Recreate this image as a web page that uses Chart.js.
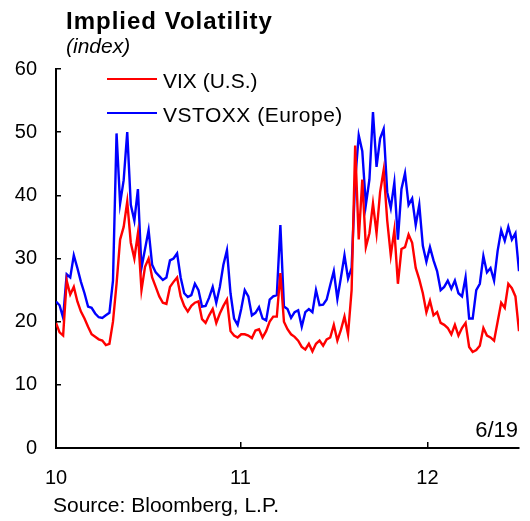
<!DOCTYPE html>
<html>
<head>
<meta charset="utf-8">
<script src="https://cdn.jsdelivr.net/npm/chart.js@4.4.0/dist/chart.umd.min.js"></script>
<style>
  html, body { margin: 0; padding: 0; background: #fff; }
  #wrap { position: relative; width: 530px; height: 521px; font-family: "Liberation Sans", Arial, sans-serif; color: #000; }
  #wrap canvas { position: absolute; left: 0; top: 0; }
  .txt { position: absolute; white-space: nowrap; font-size: 21px; line-height: 21px; }
  .key { position: absolute; height: 2px; width: 50px; }
</style>
</head>
<body>
<div id="wrap">
  <canvas id="vol" width="530" height="521"></canvas>
  <div class="txt" style="left:66px; top:9px; font-size:24px; line-height:24px; font-weight:bold; letter-spacing:1px;">Implied Volatility</div>
  <div class="txt" style="left:66px; top:35px; font-style:italic;">(index)</div>
  <div class="key" style="left:107px; top:78px; background:#ff0000;"></div>
  <div class="txt" style="left:163px; top:70px;">VIX (U.S.)</div>
  <div class="key" style="left:107px; top:112px; background:#0000ff;"></div>
  <div class="txt" style="left:163px; top:104px; letter-spacing:0.5px;">VSTOXX (Europe)</div>
  <div class="txt" style="right:12px; top:419px; font-size:22px; line-height:22px;">6/19</div>
  <div class="txt" style="left:53px; top:494px;">Source: Bloomberg, L.P.</div>
</div>
<script>
// weekly readings, Jan 2010 .. Jun 19 2012
const vix = [
  19.8, 18.3, 17.8, 26.5, 24.3, 25.5, 23.2, 21.6, 20.5, 19.2,
  18.0, 17.6, 17.2, 17.0, 16.3, 16.5, 20.0, 26.0, 33.0, 35.0,
  39.0, 32.5, 30.0, 34.0, 25.0, 28.7, 30.0, 27.0, 25.5, 24.0,
  23.0, 22.8, 25.5, 26.3, 27.0, 24.0, 22.5, 21.6, 22.5, 23.0,
  23.2, 20.4, 19.8, 21.0, 22.0, 19.8, 21.3, 22.5, 23.5, 18.5,
  17.8, 17.5, 18.0, 18.0, 17.8, 17.4, 18.6, 18.8, 17.5, 18.5,
  20.0, 20.8, 20.8, 27.7, 20.0, 18.8, 18.0, 17.6, 17.0, 16.0,
  15.6, 16.5, 15.3, 16.5, 17.0, 16.2, 17.2, 17.5, 19.5, 17.0,
  18.7, 20.8, 18.0, 25.0, 47.9, 33.0, 42.5, 31.8, 34.0, 38.7,
  34.0, 40.5, 44.0, 36.0, 30.5, 34.5, 26.0, 31.5, 31.8, 33.8,
  32.5, 28.5, 26.7, 24.5, 21.5, 23.3, 21.0, 21.5, 19.8, 19.5,
  19.0, 18.0, 19.5, 17.8, 19.0, 19.8, 16.0, 15.2, 15.5, 16.2,
  19.0, 17.8, 17.5, 17.0, 20.0, 23.0, 22.2, 26.0, 25.3, 24.0, 18.5
];
const vstoxx = [
  23.2, 22.6, 20.6, 27.5, 27.0, 30.5, 28.5, 26.3, 24.5, 22.4,
  22.2, 21.3, 20.7, 20.6, 21.0, 21.4, 26.5, 49.8, 38.7, 42.4,
  50.0, 38.5, 36.0, 41.0, 28.5, 31.5, 34.5, 29.0, 27.8, 27.2,
  26.6, 27.0, 29.7, 30.0, 30.8, 27.0, 24.5, 23.9, 24.2, 26.0,
  25.0, 22.4, 22.5, 23.8, 25.5, 23.0, 25.5, 29.0, 31.3, 24.5,
  20.5, 19.5, 22.0, 25.0, 24.0, 21.0, 21.4, 22.3, 20.5, 20.2,
  23.5, 24.0, 24.2, 35.3, 22.4, 22.0, 20.6, 21.5, 21.8, 19.2,
  21.5, 22.0, 21.5, 25.0, 22.6, 22.7, 23.5, 25.8, 28.0, 23.6,
  27.0, 30.5, 26.8, 28.5, 42.4, 49.5, 47.0, 38.5, 42.5, 53.2,
  44.5, 49.0, 50.5, 40.5, 38.0, 42.0, 33.0, 41.0, 43.5, 38.5,
  39.5, 35.3, 38.5, 32.0, 29.5, 31.8, 29.7, 28.0, 25.0, 25.5,
  26.5, 25.2, 26.5, 24.5, 24.0, 27.0, 20.5, 20.5, 25.0, 26.0,
  30.4, 27.8, 28.5, 26.5, 31.2, 34.5, 32.8, 35.0, 33.0, 34.0, 28.0
];
// week number of each reading (0 = first week of 2010)
const weeks = vix.map((_, i) => i);
const yearLabels = ['10', '11', '12'];
const yearWeeks = [0, 51.8, 104.3];

const FONT = { family: '"Liberation Sans", Arial, sans-serif', size: 20 };

new Chart(document.getElementById('vol'), {
  type: 'line',
  data: {
    datasets: [
      {
        label: 'VIX (U.S.)', data: weeks.map(w => ({ x: w, y: vix[w] })),
        borderColor: '#ff0000', borderWidth: 2.4, pointRadius: 0, tension: 0,
      },
      {
        label: 'VSTOXX (Europe)', data: weeks.map(w => ({ x: w, y: vstoxx[w] })),
        borderColor: '#0000ff', borderWidth: 2.4, pointRadius: 0, tension: 0,
      },
    ],
  },
  options: {
    responsive: false, animation: false, devicePixelRatio: 1,
    layout: { padding: { left: 0, right: 11, top: 69, bottom: 0 } },
    plugins: { legend: { display: false }, tooltip: { enabled: false } },
    scales: {
      x: {
        type: 'linear', min: 0, max: 130,
        border: { color: '#000', width: 2 },
        grid: { drawOnChartArea: false, tickLength: -6, color: '#000', lineWidth: 1.5 },
        afterBuildTicks: s => { s.ticks = yearWeeks.map(v => ({ value: v })); },
        afterFit: s => { s.height = 73; },
        ticks: {
          autoSkip: false, maxRotation: 0, padding: 24, color: '#000', font: FONT,
          callback: (v, i) => yearLabels[i],
        },
      },
      y: {
        min: 0, max: 60,
        border: { color: '#000', width: 2 },
        grid: { drawOnChartArea: false, tickLength: -5, color: '#000', lineWidth: 1.5 },
        afterFit: s => { s.width = 56; },
        ticks: { stepSize: 10, padding: 24, color: '#000', font: FONT },
      },
    },
  },
});
</script>
</body>
</html>
